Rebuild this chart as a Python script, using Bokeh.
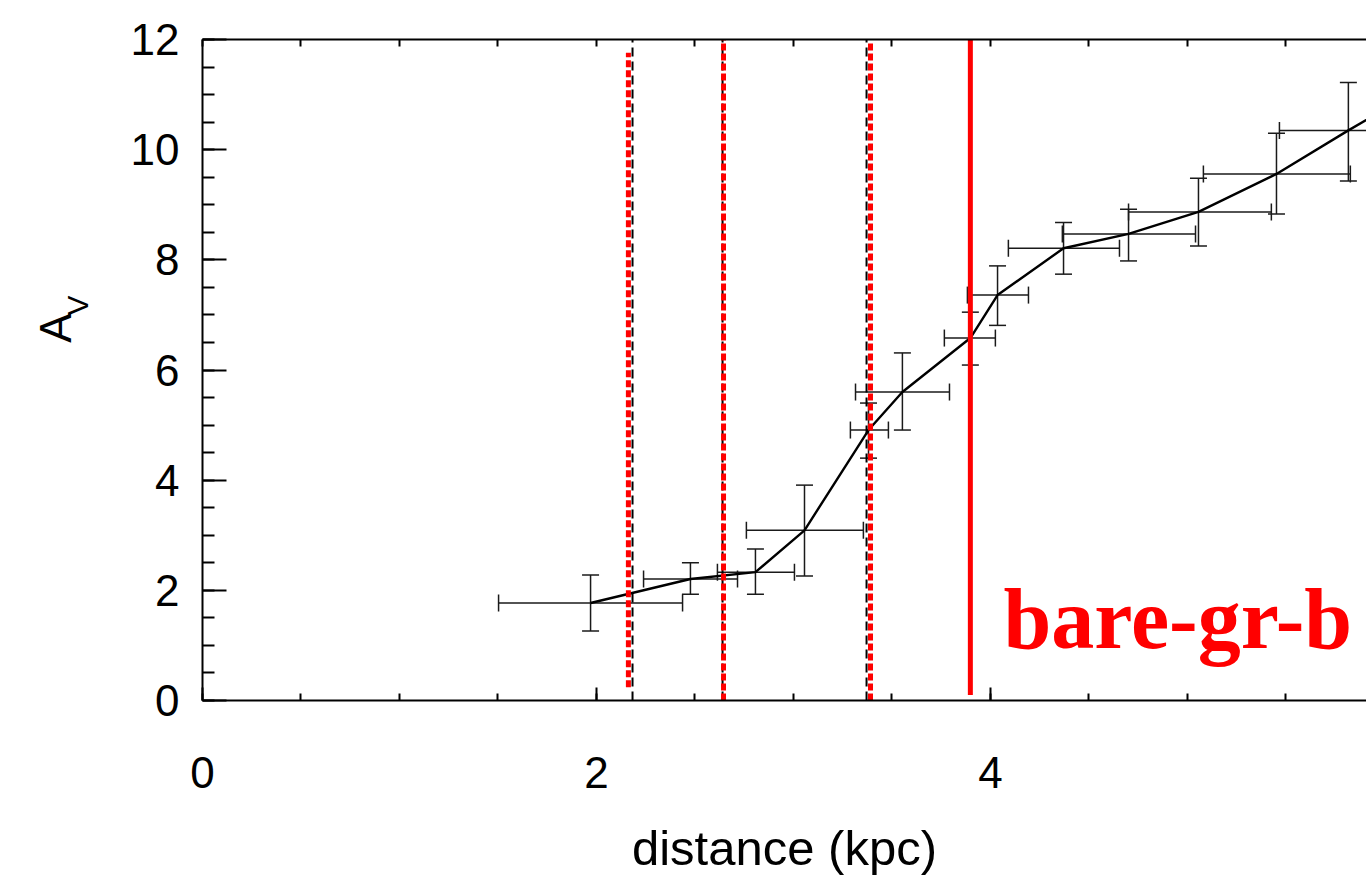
import math
from bokeh.plotting import figure
from bokeh.layouts import row
from bokeh.models import (ColumnDataSource, Whisker, TeeHead, LinearAxis,
                          FixedTicker, Label, Range1d)
from bokeh.core.properties import value
from bokeh.embed import file_html
from bokeh.resources import INLINE

# ---------------- data ----------------
distance = [1.970, 2.477, 2.807, 3.056, 3.381, 3.553, 3.898, 4.036, 4.371, 4.701, 5.056, 5.452, 5.817, 6.200]
dist_lo = [1.503, 2.239, 2.614, 2.761, 3.289, 3.315, 3.766, 3.883, 4.091, 4.365, 4.701, 5.081, 5.467, 5.950]
dist_hi = [2.437, 2.716, 3.005, 3.355, 3.482, 3.792, 4.025, 4.193, 4.655, 5.041, 5.426, 5.827, 6.170, 6.450]
av = [1.77, 2.205, 2.33, 3.09, 4.91, 5.60, 6.58, 7.36, 8.21, 8.47, 8.87, 9.56, 10.35, 11.15]
av_lo = [1.26, 1.93, 1.93, 2.26, 4.40, 4.91, 6.09, 6.81, 7.74, 7.98, 8.25, 8.83, 9.43, 10.20]
av_hi = [2.28, 2.50, 2.75, 3.91, 5.40, 6.31, 7.05, 7.89, 8.68, 8.92, 9.48, 10.30, 11.22, 12.10]

black_dash_x = [2.183, 2.640, 3.371]
red_dot_x = [2.162, 2.645, 3.391]
red_dot_y0 = [0.24, 0.0, 0.0]
red_dot_y1 = [11.76, 12.0, 11.93]
solid_x = [3.898]

x_ticks = [0, 2, 4, 6]
y_ticks = [0, 2, 4, 6, 8, 10, 12]
x_title = "distance (kpc)"
y_title_main = "A"
y_title_sub = "V"
annotation_text = "bare-gr-b"

FONT = "Liberation Sans"
H = 882
LEFT_W = 102

# ---------------- y-title strip ----------------
strip = figure(width=LEFT_W, height=H, output_backend="svg", toolbar_location=None,
               x_range=Range1d(0, LEFT_W), y_range=Range1d(0, H),
               x_axis_location=None, y_axis_location=None, min_border=0,
               outline_line_color=None, background_fill_color="white",
               border_fill_color="white")
strip.grid.visible = False
strip.text(x=[55], y=[H - 385], text=[y_title_main], angle=math.pi / 2,
           text_font=value(FONT), text_font_size="44px", text_color="black",
           text_align="center", text_baseline="middle")
strip.text(x=[77], y=[H - 355], text=[y_title_sub], angle=math.pi / 2,
           text_font=value(FONT), text_font_size="30px", text_color="black",
           text_align="center", text_baseline="middle")

# ---------------- main figure ----------------
p = figure(width=1366 - LEFT_W, height=H, output_backend="svg", toolbar_location=None,
           x_range=Range1d(0, 5.909), y_range=Range1d(0, 12),
           min_border_left=202 - LEFT_W, min_border_right=0, min_border_top=39,
           min_border_bottom=182, background_fill_color="white",
           border_fill_color="white", outline_line_color=None)
p.grid.visible = False

minor_x = [i * 0.5 for i in range(0, 15)]
minor_y = [i * 0.5 for i in range(0, 26)]

p.xaxis.ticker = FixedTicker(ticks=x_ticks, minor_ticks=minor_x)
p.yaxis.ticker = FixedTicker(ticks=y_ticks, minor_ticks=minor_y)

for ax in p.xaxis:
    ax.major_tick_in = 13
    ax.major_tick_out = 0
    ax.minor_tick_in = 7
    ax.minor_tick_out = 0
    ax.major_label_standoff = 56
    ax.axis_label = x_title
    ax.axis_label_text_font = FONT
    ax.axis_label_text_font_size = "49px"
    ax.axis_label_text_font_style = "normal"
    ax.axis_label_text_color = "black"
    ax.axis_label_standoff = 30
for ax in p.yaxis:
    ax.major_tick_in = 24
    ax.major_tick_out = 0
    ax.minor_tick_in = 12
    ax.minor_tick_out = 0
    ax.major_label_standoff = 23

for ax in list(p.xaxis) + list(p.yaxis):
    ax.axis_line_width = 2
    ax.axis_line_color = "black"
    ax.major_tick_line_width = 2
    ax.minor_tick_line_width = 2
    ax.major_tick_line_color = "black"
    ax.minor_tick_line_color = "black"
    ax.major_label_text_font = FONT
    ax.major_label_text_font_size = "44px"
    ax.major_label_text_color = "black"

# top axis: ticks only
top = LinearAxis(ticker=FixedTicker(ticks=[], minor_ticks=minor_x),
                 major_tick_in=0, major_tick_out=0, minor_tick_in=7, minor_tick_out=0,
                 axis_line_width=2, minor_tick_line_width=2,
                 major_label_standoff=0)
p.add_layout(top, "above")

# error bars
src = ColumnDataSource(dict(x=distance, xlo=dist_lo, xhi=dist_hi,
                            y=av, ylo=av_lo, yhi=av_hi))
EB = "#1a1a1a"
wy = Whisker(source=src, base="x", lower="ylo", upper="yhi", dimension="height",
             line_color=EB, line_width=1.5, level="underlay",
             upper_head=TeeHead(size=17, line_color=EB, line_width=1.5),
             lower_head=TeeHead(size=17, line_color=EB, line_width=1.5))
wx = Whisker(source=src, base="y", lower="xlo", upper="xhi", dimension="width",
             line_color=EB, line_width=1.5, level="underlay",
             upper_head=TeeHead(size=17, line_color=EB, line_width=1.5),
             lower_head=TeeHead(size=17, line_color=EB, line_width=1.5))
p.add_layout(wy)
p.add_layout(wx)

p.line("x", "y", source=src, line_color="black", line_width=2.4)

# vertical marker lines
p.segment(x0=black_dash_x, y0=[0] * len(black_dash_x), x1=black_dash_x,
          y1=[12] * len(black_dash_x), line_color="black", line_width=2,
          line_dash="9 5")
p.segment(x0=red_dot_x, y0=red_dot_y0, x1=red_dot_x, y1=red_dot_y1,
          line_color="#ff0000", line_width=5, line_dash="7 3")
p.segment(x0=solid_x, y0=[0.1], x1=solid_x, y1=[12], line_color="#ff0000",
          line_width=5)

# annotation text
p.add_layout(Label(x=4.066, y=1.48, text=annotation_text, text_color="#ff0000",
                   text_font="Liberation Serif", text_font_style="bold",
                   text_font_size="86px", text_align="left",
                   text_baseline="alphabetic"))

layout = row(strip, p)
open("out.html", "w").write(file_html(layout, INLINE))
